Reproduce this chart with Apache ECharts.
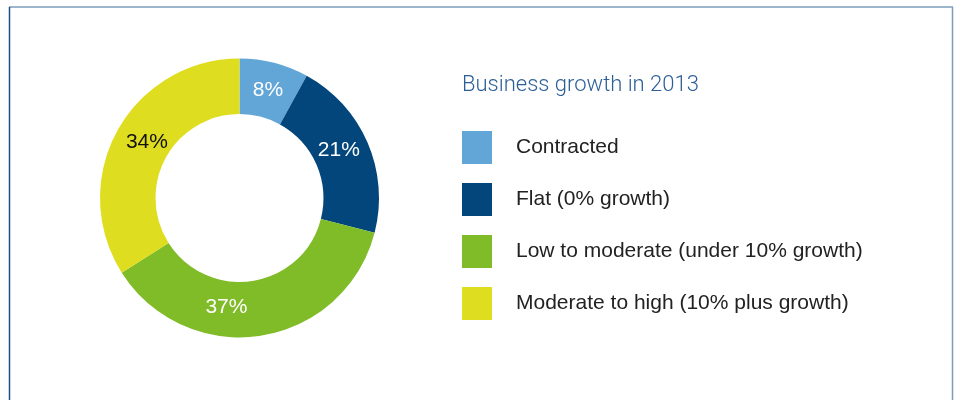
<!DOCTYPE html>
<html>
<head>
<meta charset="utf-8">
<script src="https://cdn.jsdelivr.net/npm/echarts@6/dist/echarts.min.js"></script>
<style>
  html, body { margin: 0; padding: 0; background: #fff; }
  #chart { width: 960px; height: 400px; }
</style>
</head>
<body>
<div id="chart"></div>
<script>
// Share of businesses by growth band in 2013
const categories = [
  'Contracted',
  'Flat (0% growth)',
  'Low to moderate (under 10% growth)',
  'Moderate to high (10% plus growth)'
];
const values = [8, 21, 37, 34];
const titleText = 'Business growth in 2013';

// styling per slice
const colors = ['#62a6d8', '#03467c', '#80bb28', '#dfdd20'];
const labelColors = ['#ffffff', '#ffffff', '#ffffff', '#111111'];
const labelNudges = [[0, 3], [-6, -2], [-31, -4], [8, -1]];

const chart = echarts.init(document.getElementById('chart'), null, { renderer: 'canvas' });

chart.setOption({
  animation: false,
  backgroundColor: '#ffffff',
  title: {
    text: titleText,
    left: 457,
    top: 69,
    textStyle: {
      fontFamily: 'Roboto, "Liberation Sans", sans-serif',
      fontWeight: 300,
      fontSize: 22,
      color: '#2c5f97'
    }
  },
  legend: {
    orient: 'vertical',
    left: 457,
    top: 126,
    itemWidth: 30,
    itemHeight: 33,
    itemGap: 19,
    icon: 'rect',
    selectedMode: false,
    data: categories,
    textStyle: {
      fontFamily: '"Liberation Sans", Arial, sans-serif',
      fontSize: 21,
      color: '#222222',
      padding: [0, 0, 0, 19]
    }
  },
  graphic: [
    // frame lines around the panel
    { type: 'line', silent: true, shape: { x1: 9, y1: 7, x2: 953, y2: 7 }, style: { stroke: '#7d9dbd', lineWidth: 1.5 } },
    { type: 'line', silent: true, shape: { x1: 9.5, y1: 7, x2: 9.5, y2: 400 }, style: { stroke: '#1f4f86', lineWidth: 1.5 } },
    { type: 'line', silent: true, shape: { x1: 952.5, y1: 7, x2: 952.5, y2: 400 }, style: { stroke: '#7d9dbd', lineWidth: 1.5 } }
  ],
  series: [{
    type: 'pie',
    center: [239.5, 198],
    radius: [84, 139.5],
    startAngle: 90,
    clockwise: true,
    silent: true,
    avoidLabelOverlap: false,
    label: {
      show: true,
      position: 'inside',
      formatter: '{c}%',
      fontFamily: '"Liberation Sans", Arial, sans-serif',
      fontSize: 21
    },
    labelLine: { show: false },
    itemStyle: { borderWidth: 0 },
    data: categories.map((name, i) => ({
      name: name,
      value: values[i],
      itemStyle: { color: colors[i] },
      label: { color: labelColors[i], offset: labelNudges[i] }
    }))
  }]
});
</script>
</body>
</html>
